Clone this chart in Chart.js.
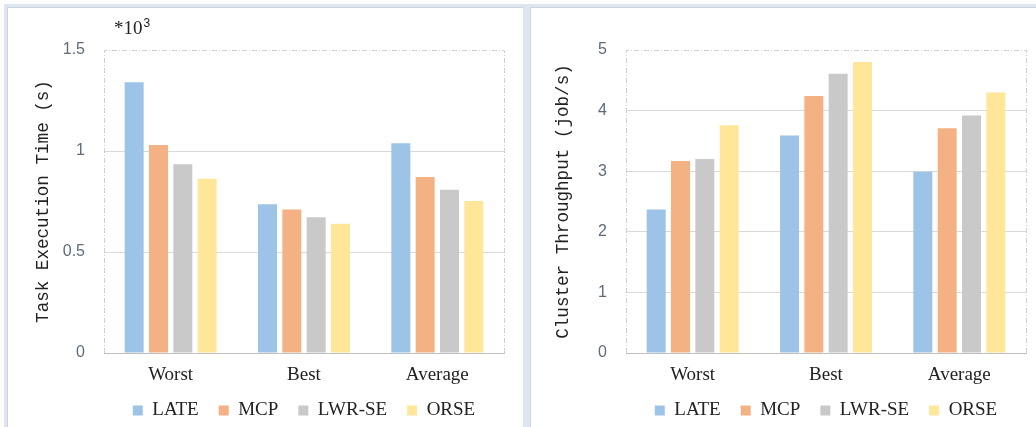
<!DOCTYPE html>
<html>
<head>
<meta charset="utf-8">
<script src="https://cdn.jsdelivr.net/npm/chart.js@4"></script>
<style>
  html, body { margin: 0; padding: 0; background: #fff; }
  body { width: 1036px; height: 427px; position: relative; overflow: hidden; }
  #frame { position: absolute; left: 4px; top: 4px; width: 1032px; height: 423px; background: #dde6f1; }
  .panel { position: absolute; top: 7px; height: 420px; background: #fff; box-sizing: border-box; border-left: 1px solid #cdd4dd; border-top: 1px solid #cdd4dd; }
  #p1 { left: 7px; width: 516px; }
  #p2 { left: 530px; width: 506px; }
</style>
</head>
<body>
<div id="frame"></div>
<div class="panel" id="p1"><canvas id="timeChart"></canvas></div>
<div class="panel" id="p2"><canvas id="tputChart"></canvas></div>
<script>
// ── data ──
const categories = ['Worst', 'Best', 'Average'];
const seriesNames = ['LATE', 'MCP', 'LWR-SE', 'ORSE'];
const seriesColors = ['#9dc3e6', '#f4b183', '#c9c9c9', '#ffe699'];

// task execution time, in units of 10^3 s
const timeLATE = [1.34, 0.736, 1.038];
const timeMCP  = [1.03, 0.711, 0.871];
const timeLWR  = [0.934, 0.672, 0.808];
const timeORSE = [0.863, 0.640, 0.752];

// cluster throughput, job/s
const tputLATE = [2.37, 3.59, 2.99];
const tputMCP  = [3.17, 4.24, 3.71];
const tputLWR  = [3.20, 4.61, 3.92];
const tputORSE = [3.76, 4.80, 4.30];

const timeTicks = [0, 0.5, 1, 1.5];
const tputTicks = [0, 1, 2, 3, 4, 5];

const SERIF = '"Liberation Serif", "Times New Roman", serif';
const MONO = '"Liberation Mono", "DejaVu Sans Mono", monospace';
const SANS = '"Liberation Sans", Arial, sans-serif';

// dashed frame round the plot area (top, left, right)
const plotFrame = {
  id: 'plotFrame',
  beforeDatasetsDraw(chart) {
    const { ctx, chartArea: a } = chart;
    ctx.save();
    ctx.strokeStyle = '#cfcfcf';
    ctx.lineWidth = 1;
    ctx.setLineDash([5, 2, 1, 2]);
    ctx.beginPath();
    ctx.moveTo(Math.round(a.left) + 0.5, Math.round(a.bottom));
    ctx.lineTo(Math.round(a.left) + 0.5, Math.round(a.top) + 0.5);
    ctx.lineTo(Math.round(a.right) + 0.5, Math.round(a.top) + 0.5);
    ctx.lineTo(Math.round(a.right) + 0.5, Math.round(a.bottom));
    ctx.stroke();
    ctx.restore();
  }
};

// "*10^3" multiplier above the left axis
const multiplier = {
  id: 'multiplier',
  afterDraw(chart, args, opts) {
    if (!opts.show) return;
    const { ctx } = chart;
    ctx.save();
    ctx.fillStyle = '#222';
    ctx.textBaseline = 'alphabetic';
    ctx.font = '19px ' + SERIF;
    ctx.fillText('*10', 106, 26);
    const w = ctx.measureText('*10').width;
    ctx.font = '12px ' + SANS;
    ctx.fillText('3', 106 + w + 1, 19);
    ctx.restore();
  }
};

// tighter legend box, centred under the plot area
const legendFit = {
  id: 'legendFit',
  beforeInit(chart) {
    const lg = chart.legend;
    const fit = lg.fit;
    lg.fit = function () {
      fit.call(lg);
      lg.height = 36;
    };
  },
  afterLayout(chart) {
    const lg = chart.legend, a = chart.chartArea;
    lg.left = a.left;
    lg.right = a.right;
    lg.top = a.bottom + 28;
    lg.bottom = lg.top + lg.height;
  }
};

function makeChart(id, series, ticks, title, opts) {
  const ctx = document.getElementById(id).getContext('2d');
  const max = ticks[ticks.length - 1];
  return new Chart(ctx, {
    type: 'bar',
    data: {
      labels: categories,
      datasets: series.map((vals, i) => ({
        label: seriesNames[i],
        data: vals,
        backgroundColor: seriesColors[i],
        borderWidth: 0,
        barPercentage: 0.78,
        categoryPercentage: 0.73
      }))
    },
    plugins: [plotFrame, multiplier, legendFit],
    options: {
      responsive: false,
      animation: false,
      devicePixelRatio: 1,
      layout: { padding: { top: 42, right: opts.padRight, left: 0, bottom: 4 } },
      plugins: {
        multiplier: { show: opts.showMult },
        tooltip: { enabled: false },
        legend: {
          position: 'bottom',
          labels: {
            boxWidth: 10,
            boxHeight: 10,
            padding: 20,
            color: '#222',
            font: { family: SERIF, size: 19 }
          }
        }
      },
      scales: {
        x: {
          afterFit: s => { s.height = 34; },
          grid: { display: false, drawTicks: false },
          border: { display: true, color: '#bfbfbf', width: 1 },
          ticks: { color: '#222', padding: 11, font: { family: SERIF, size: 19 } }
        },
        y: {
          min: 0,
          max: max,
          afterBuildTicks: s => { s.ticks = ticks.map(v => ({ value: v })); },
          afterFit: s => { s.width = opts.axisWidth; },
          grid: {
            drawTicks: false,
            color: c => (c.tick.value === 0 || c.tick.value === max) ? 'rgba(0,0,0,0)' : '#d9d9d9'
          },
          border: { display: false },
          ticks: {
            color: '#5f6b7a',
            padding: 19,
            font: { family: SANS, size: 16 },
            callback: v => String(v)
          },
          title: {
            display: true,
            text: title,
            color: '#222',
            padding: { top: opts.titlePad, bottom: 0 },
            font: { family: MONO, size: 17.6 }
          }
        }
      }
    }
  });
}

function sizeCanvas(id, w, h) {
  const c = document.getElementById(id);
  c.width = w; c.height = h;
  c.style.width = w + 'px'; c.style.height = h + 'px';
}

sizeCanvas('timeChart', 515, 419);
sizeCanvas('tputChart', 505, 419);

makeChart('timeChart', [timeLATE, timeMCP, timeLWR, timeORSE], timeTicks,
  'Task Execution Time (s)', { padRight: 19, axisWidth: 96, titlePad: 25, showMult: true });
makeChart('tputChart', [tputLATE, tputMCP, tputLWR, tputORSE], tputTicks,
  'Cluster Throughput (job/s)', { padRight: 10, axisWidth: 95, titlePad: 22, showMult: false });
</script>
</body>
</html>
